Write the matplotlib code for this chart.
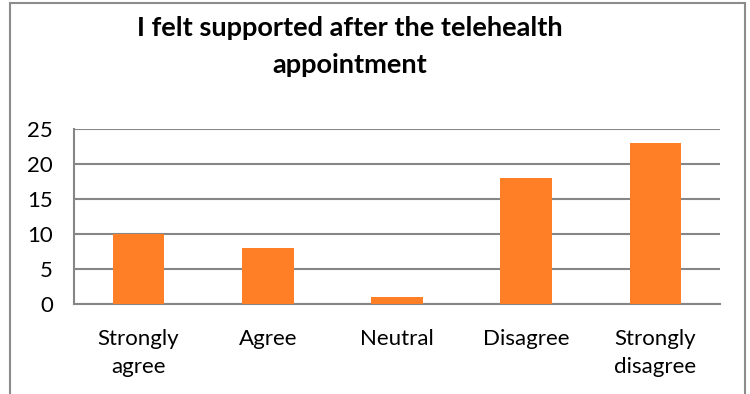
import matplotlib
matplotlib.use("Agg")
import matplotlib.pyplot as plt
from matplotlib.patches import Rectangle

categories = ["Strongly\nagree", "Agree", "Neutral", "Disagree", "Strongly\ndisagree"]
counts = [10, 8, 1, 18, 23]
yticks = [0, 5, 10, 15, 20, 25]
title = "I felt supported after the telehealth\nappointment"

plt.rcParams["font.family"] = ["Lato", "DejaVu Sans"]

W, H = 750, 394
fig = plt.figure(figsize=(W / 100, H / 100), dpi=100)
fig.patch.set_facecolor("white")

# chart-area frame (extends below the visible canvas)
frame = Rectangle((10 / W, -0.2), (745 - 10) / W, (H - 3) / H + 0.2,
                  transform=fig.transFigure, fill=False,
                  edgecolor="#8c8c8c", linewidth=1.5)
fig.patches.append(frame)

ax = fig.add_axes([74 / W, (H - 304) / H, (720 - 74) / W, (304 - 129) / H])
x = range(len(categories))
ax.bar(x, counts, width=0.4, color="#FF7F27", zorder=3)

ax.set_xlim(-0.5, len(categories) - 0.5)
ax.set_ylim(0, 25)
ax.set_yticks(yticks)
ax.set_xticks(list(x))
ax.set_xticklabels(categories, fontsize=16, linespacing=1.5)
ax.tick_params(axis="y", length=0, pad=15, labelsize=16)
ax.tick_params(axis="x", length=0, pad=18)
ax.grid(axis="y", color="#868686", linewidth=1.5, zorder=0)
for s in ("top", "right"):
    ax.spines[s].set_visible(False)
for s in ("left", "bottom"):
    ax.spines[s].set_color("#868686")
    ax.spines[s].set_linewidth(1.5)

fig.text(350 / W, 1 - 46.5 / H, title, ha="center", va="center",
         fontsize=19.5, fontweight="bold", linespacing=1.62)

fig.savefig("out.png", dpi=100)
